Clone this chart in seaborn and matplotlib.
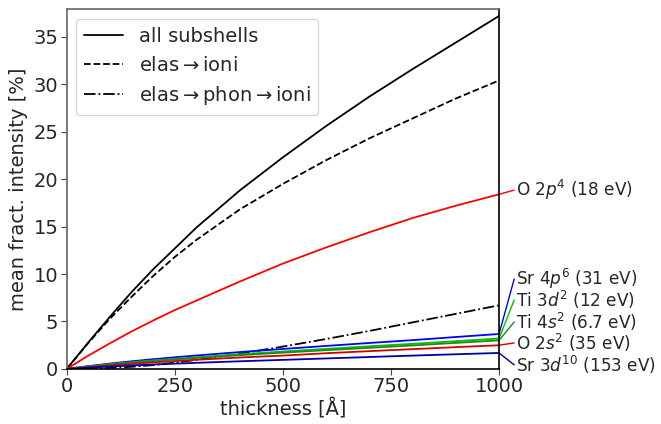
import numpy as np
import pandas as pd
import matplotlib
matplotlib.use("Agg")
import matplotlib.pyplot as plt
import seaborn as sns

thickness = [0, 50, 100, 150, 200, 250, 300, 400, 500, 600, 700, 800, 900, 1000]
all_subshells = [0, 2.8, 5.5, 8.1, 10.5, 12.7, 14.9, 18.8, 22.3, 25.6, 28.7, 31.6, 34.4, 37.2]
elas_ioni = [0, 2.75, 5.3, 7.6, 9.8, 11.8, 13.6, 16.8, 19.5, 22.0, 24.3, 26.4, 28.5, 30.4]
elas_phon_ioni = [0, 0.03, 0.1, 0.22, 0.4, 0.66, 0.95, 1.6, 2.35, 3.15, 4.0, 4.9, 5.8, 6.7]

subshell_names = ["O 2$p^4$ (18 eV)", "Sr 4$p^6$ (31 eV)", "Ti 3$d^2$ (12 eV)",
                  "Ti 4$s^2$ (6.7 eV)", "O 2$s^2$ (35 eV)", "Sr 3$d^{10}$ (153 eV)"]
o2p = [0, 1.4, 2.7, 3.95, 5.1, 6.2, 7.2, 9.2, 11.1, 12.8, 14.4, 15.9, 17.2, 18.4]
sr4p = [0, 0.29, 0.56, 0.8, 1.02, 1.22, 1.41, 1.77, 2.1, 2.42, 2.73, 3.03, 3.36, 3.68]
ti3d = [0, 0.25, 0.49, 0.7, 0.89, 1.06, 1.23, 1.54, 1.83, 2.11, 2.38, 2.64, 2.92, 3.2]
ti4s = [0, 0.24, 0.46, 0.65, 0.83, 0.99, 1.15, 1.44, 1.71, 1.97, 2.22, 2.47, 2.74, 3.0]
o2s = [0, 0.19, 0.37, 0.53, 0.68, 0.82, 0.96, 1.2, 1.4, 1.65, 1.87, 2.08, 2.29, 2.49]
sr3d = [0, 0.13, 0.25, 0.36, 0.46, 0.55, 0.64, 0.8, 0.95, 1.1, 1.25, 1.4, 1.54, 1.68]
subshell_values = [o2p, sr4p, ti3d, ti4s, o2s, sr3d]
subshell_colors = ["#ff0000", "#0000ff", "#00c000", "#1a8c1a", "#d40000", "#0000a0"]
label_y = [18.84, 9.47, 7.26, 4.95, 2.74, 0.42]

sns.set_style("white")
plt.rcParams['font.family'] = ['DejaVu Sans']

fig = plt.figure(figsize=(6.61, 4.24), dpi=100)
ax = fig.add_axes([0.101, 0.13, 0.654, 0.848])

df_main = pd.DataFrame({"thickness": thickness, "all": all_subshells,
                        "ei": elas_ioni, "epi": elas_phon_ioni})
sns.lineplot(data=df_main, x="thickness", y="all", ax=ax, color="black",
             linestyle="-", lw=1.3, label="all subshells")
sns.lineplot(data=df_main, x="thickness", y="ei", ax=ax, color="black",
             linestyle="--", lw=1.3, label=r"elas$\rightarrow$ioni")
sns.lineplot(data=df_main, x="thickness", y="epi", ax=ax, color="black",
             linestyle="-.", lw=1.3, label=r"elas$\rightarrow$phon$\rightarrow$ioni")

for name, vals, col, ly in zip(subshell_names, subshell_values, subshell_colors, label_y):
    d = pd.DataFrame({"thickness": thickness, "v": vals})
    sns.lineplot(data=d, x="thickness", y="v", ax=ax, color=col, lw=1.3, legend=False)
    ax.plot([thickness[-1], 1035], [vals[-1], ly], color=col, lw=1.0, clip_on=False)
    ax.text(1040, ly, name, va="center", ha="left", fontsize=12.2, clip_on=False)

ax.set_xlim(0, 1000)
ax.set_ylim(0, 37.9)
ax.set_xticks([0, 250, 500, 750, 1000])
ax.set_yticks([0, 5, 10, 15, 20, 25, 30, 35])
ax.set_xlabel("thickness [Å]", fontsize=14, labelpad=2)
ax.set_ylabel("mean fract. intensity [%]", fontsize=14, labelpad=4)
ax.tick_params(labelsize=14, length=4, direction="out", left=True, bottom=True,
               color="#444444", pad=2)
for s in ["left", "top"]:
    ax.spines[s].set_color("#666666")
for s in ["right", "bottom"]:
    ax.spines[s].set_color("black")
for s in ax.spines.values():
    s.set_linewidth(1.2)

leg = ax.legend(loc="upper left", fontsize=14, frameon=True, handlelength=2.0,
                borderaxespad=0.5)
leg.get_frame().set_edgecolor("#cccccc")

fig.savefig("out.png", dpi=100)
